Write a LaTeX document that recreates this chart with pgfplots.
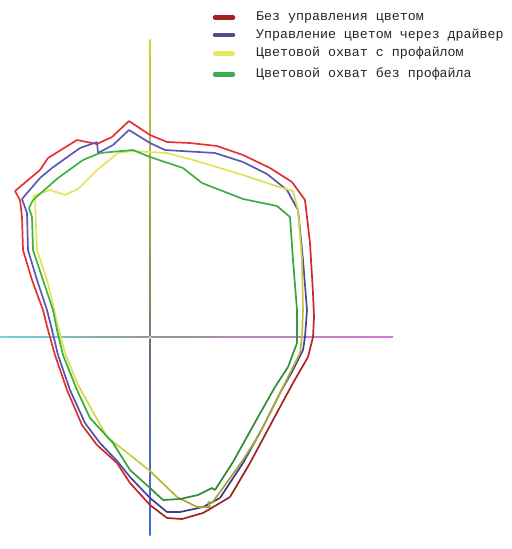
\documentclass[border=0pt]{standalone}
\usepackage{fontspec}
\newfontfamily\legfont{Liberation Mono}
\usepackage{pgfplots}
\pgfplotsset{compat=1.18}

\pgfplotsset{
  colormap={redg}{rgb255=(230,50,50) rgb255=(205,40,40) rgb255=(120,28,28)},
  colormap={blueg}{rgb255=(90,90,180) rgb255=(75,75,160) rgb255=(45,45,115)},
  colormap={yelg}{rgb255=(228,228,85) rgb255=(200,200,65) rgb255=(130,130,55)},
  colormap={greeng}{rgb255=(60,178,70) rgb255=(55,160,60) rgb255=(40,105,45)},
  gamut/.style={mesh, line width=1.7bp, line join=round,
    point meta=\pgfkeysvalueof{/data point/x}+\pgfkeysvalueof{/data point/y}},
}

\begin{document}
\begin{tikzpicture}
\begin{axis}[
    width=512bp, height=549bp, scale only axis,
    xmin=0, xmax=512, ymin=0, ymax=549, y dir=reverse,
    hide axis, clip=false,
    point meta min=400, point meta max=800,
]
% keep the whole frame as the page
\path (axis cs:0,0) rectangle (axis cs:512,549);
% a*, b* axes
\shade[top color={rgb,255:red,210;green,210;blue,45}, bottom color={rgb,255:red,125;green,125;blue,110}]
  (axis cs:149.4,40) rectangle (axis cs:150.6,336);
\shade[top color={rgb,255:red,110;green,110;blue,120}, bottom color={rgb,255:red,55;green,110;blue,215}]
  (axis cs:149.4,338) rectangle (axis cs:150.6,535);
\shade[left color={rgb,255:red,110;green,215;blue,220}, right color={rgb,255:red,150;green,150;blue,150}]
  (axis cs:0,336.3) rectangle (axis cs:149,337.7);
\shade[left color={rgb,255:red,150;green,150;blue,150}, right color={rgb,255:red,215;green,120;blue,215}]
  (axis cs:151,336.3) rectangle (axis cs:393,337.7);

% no colour management
\addplot[gamut, colormap name=redg] coordinates {
(129,121) (150,135) (167,142) (190,143) (217,146) (243,155) (270,168) (292,182)
(305,200) (310,243) (313,293) (314,317) (313,337) (308,357) (293,383) (280,407)
(250,463) (230,497) (220,503) (203,513) (182,519) (167,518) (150,505) (130,483)
(117,463) (97,445) (82,425) (67,390) (55,355) (48,330) (43,310) (32,280)
(23,250) (22,217) (20,200) (15,191) (40,170) (48,158) (77,140) (97,144)
(112,137) (129,121)};
% colour management via driver
\addplot[gamut, colormap name=blueg] coordinates {
(129,130) (150,143) (165,150) (215,153) (243,162) (267,174) (287,190) (298,210)
(303,260) (307,310) (305,337) (303,350) (293,370) (280,393) (263,427) (243,463)
(220,498) (203,507) (180,512) (167,512) (150,498) (130,477) (118,462) (100,443)
(85,423) (70,390) (58,355) (52,330) (47,310) (37,280) (28,250) (27,213)
(22,199) (40,178) (52,168) (80,148) (97,142) (98,153) (113,145) (129,130)};
% gamut with profile
\addplot[gamut, colormap name=yelg] coordinates {
(133,151) (167,153) (200,162) (243,175) (273,185) (293,191) (298,210) (302,260)
(303,310) (302,337) (300,353) (290,373) (260,433) (243,460) (220,492) (212,503)
(208,502) (210,507) (197,507) (177,497) (150,471) (130,455) (107,437) (78,385)
(65,353) (59,330) (47,280) (37,250) (35,200) (33,196) (50,190) (65,195)
(78,189) (97,170) (118,153) (133,151)};
% gamut without profile
\addplot[gamut, colormap name=greeng] coordinates {
(133,150) (150,157) (183,168) (202,183) (243,199) (277,206) (290,217) (293,260)
(297,310) (297,337) (297,343) (288,367) (275,387) (258,417) (233,462) (215,490)
(212,488) (198,495) (180,499) (163,500) (150,488) (130,470) (113,443) (90,418)
(77,390) (63,355) (57,330) (53,310) (43,280) (33,250) (32,217) (29,208)
(33,200) (58,178) (83,160) (100,153) (133,150)};

% legend
\def\legrow#1#2#3{%
  \draw[line width=4.5bp, line cap=round, color=#2] (axis cs:215,#1) -- (axis cs:233,#1);
  \node[anchor=west, inner sep=0pt, text=black!85,
        font=\legfont\fontsize{13.3bp}{16bp}\selectfont] at (axis cs:256,#1) {#3};}
\legrow{17.5}{{rgb,255:red,160;green,35;blue,35}}{Без управления цветом}
\legrow{35}{{rgb,255:red,75;green,75;blue,150}}{Управление цветом через драйвер}
\legrow{53.5}{{rgb,255:red,232;green,232;blue,95}}{Цветовой охват с профайлом}
\legrow{74.5}{{rgb,255:red,55;green,175;blue,75}}{Цветовой охват без профайла}
\end{axis}
\end{tikzpicture}
\end{document}
